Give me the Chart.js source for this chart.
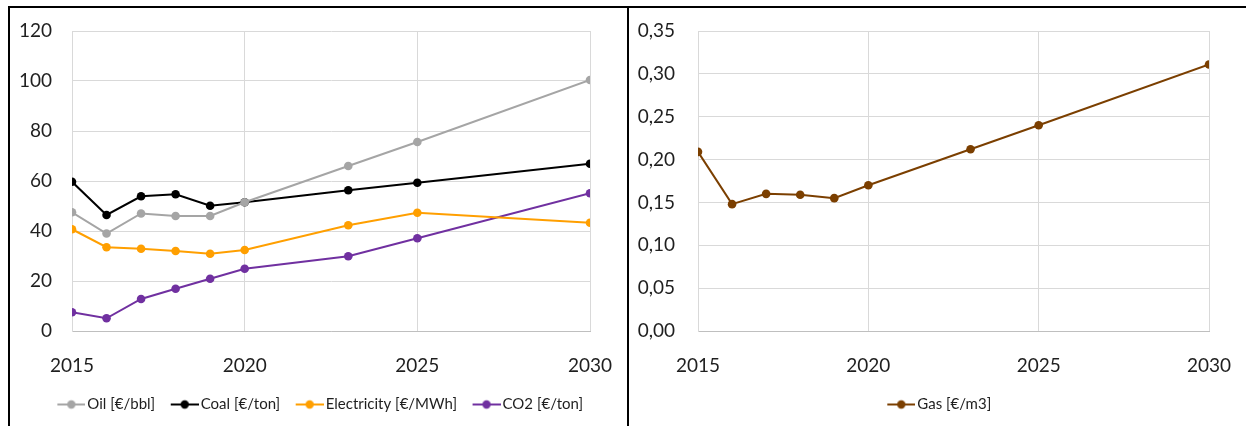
<!DOCTYPE html>
<html>
<head>
<meta charset="utf-8">
<script src="https://cdn.jsdelivr.net/npm/chart.js@4"></script>
<style>
  html, body { margin: 0; padding: 0; background: #fff; }
  #frame { position: absolute; left: 0; top: 0; width: 1246px; height: 426px; overflow: hidden; }
  .panel { position: absolute; top: 6px; height: 420px; border-top: 2px solid #000; border-left: 2px solid #000; }
  #panelA { left: 8px; width: 617px; }
  #panelB { left: 627px; width: 619px; }
  canvas { display: block; }
</style>
</head>
<body>
<div id="frame">
  <div class="panel" id="panelA"><canvas id="pricesChart" width="617" height="418"></canvas></div>
  <div class="panel" id="panelB"><canvas id="gasChart" width="617" height="418"></canvas></div>
</div>
<script>
// Projection years
const years = [2015, 2016, 2017, 2018, 2019, 2020, 2023, 2025, 2030];

// Commodity prices
const oilPrice = [47.5, 39, 47, 46, 46, 51.5, 66, 75.6, 100.4];
const coalPrice = [59.7, 46.4, 53.9, 54.7, 50.1, 51.5, 56.3, 59.3, 66.9];
const electricityPrice = [40.7, 33.5, 32.9, 32, 30.9, 32.4, 42.3, 47.3, 43.3];
const co2Price = [7.5, 5.1, 12.8, 16.9, 20.9, 24.9, 29.9, 37.1, 55.1];
const gasPrice = [0.209, 0.148, 0.16, 0.159, 0.155, 0.17, 0.212, 0.24, 0.311];

// Series names
const seriesNames = ['Oil [€/bbl]', 'Coal [€/ton]', 'Electricity [€/MWh]', 'CO2 [€/ton]'];
const gasName = 'Gas [€/m3]';

const FONT = 'Lato, "Open Sans", sans-serif';
const TEXT = '#1f1f1f';
const GRID = '#D9D9D9';

function toPoints(values) {
  return years.map((y, i) => ({ x: y, y: values[i] }));
}

// Legend marker: short line with a dot in the middle, drawn at the right end
// of its canvas so it sits just before the label text
function lineMarker(color) {
  const c = document.createElement('canvas');
  c.width = 37; c.height = 12;
  const g = c.getContext('2d');
  g.strokeStyle = color; g.lineWidth = 2;
  g.beginPath(); g.moveTo(9, 6); g.lineTo(37, 6); g.stroke();
  g.fillStyle = color;
  g.beginPath(); g.arc(23, 6, 4.2, 0, Math.PI * 2); g.fill();
  return c;
}

function series(label, values, color) {
  return {
    label, data: toPoints(values),
    borderColor: color, backgroundColor: color,
    borderWidth: 2, pointRadius: 4.3, pointHoverRadius: 4.3,
    pointBorderWidth: 0, tension: 0
  };
}

function baseOptions(yOpts, yWidth, yPad, rightGap) {
  return {
    responsive: false,
    animation: false,
    layout: { padding: { top: 23, left: 0, right: 0, bottom: 4 } },
    plugins: {
      tooltip: { enabled: false },
      legend: {
        position: 'bottom',
        labels: {
          usePointStyle: true,
          pointStyleWidth: 26,
          padding: 12,
          color: TEXT,
          font: { family: FONT, size: 15 },
          generateLabels(chart) {
            const items = Chart.defaults.plugins.legend.labels.generateLabels(chart);
            items.forEach(it => {
              it.pointStyle = lineMarker(chart.data.datasets[it.datasetIndex].borderColor);
            });
            return items;
          }
        }
      }
    },
    scales: {
      x: {
        type: 'linear', min: 2015, max: 2030,
        ticks: {
          stepSize: 5, padding: 23, color: TEXT,
          font: { family: FONT, size: 19 },
          callback: v => String(v)
        },
        grid: { color: GRID, lineWidth: 1, drawTicks: false },
        border: { color: '#BFBFBF', width: 1 },
        afterFit(scale) {
          scale.height = 54;
          scale.paddingLeft = 0;
          scale.paddingRight = 0;
        }
      },
      y: Object.assign({
        ticks: Object.assign({ padding: yPad, color: TEXT, font: { family: FONT, size: 19 } }, yOpts.ticks),
        grid: { color: GRID, lineWidth: 1, drawTicks: false },
        border: { color: GRID, width: 1 },
        afterFit(scale) {
          scale.width = yWidth;
          scale.paddingTop = 0;
          scale.paddingBottom = 0;
        }
      }, { min: yOpts.min, max: yOpts.max }),
      // empty spacer on the right so the legend stays centred on the panel
      spacer: {
        type: 'linear', position: 'right', display: true,
        grid: { display: false }, ticks: { display: false }, border: { display: false },
        afterFit(scale) {
          scale.width = rightGap;
          scale.paddingTop = 0;
          scale.paddingBottom = 0;
        }
      }
    }
  };
}

new Chart(document.getElementById('pricesChart'), {
  type: 'line',
  data: {
    datasets: [
      series(seriesNames[0], oilPrice, '#A5A5A5'),
      series(seriesNames[1], coalPrice, '#000000'),
      series(seriesNames[2], electricityPrice, '#FF9F00'),
      series(seriesNames[3], co2Price, '#7030A0')
    ]
  },
  options: baseOptions({ min: 0, max: 120, ticks: { stepSize: 20 } }, 62, 20, 37)
});

new Chart(document.getElementById('gasChart'), {
  type: 'line',
  data: { datasets: [series(gasName, gasPrice, '#7B3F00')] },
  options: baseOptions({
    min: 0, max: 0.35,
    ticks: { stepSize: 0.05, callback: v => v.toFixed(2).replace('.', ',') }
  }, 69, 23, 37)
});
</script>
</body>
</html>
